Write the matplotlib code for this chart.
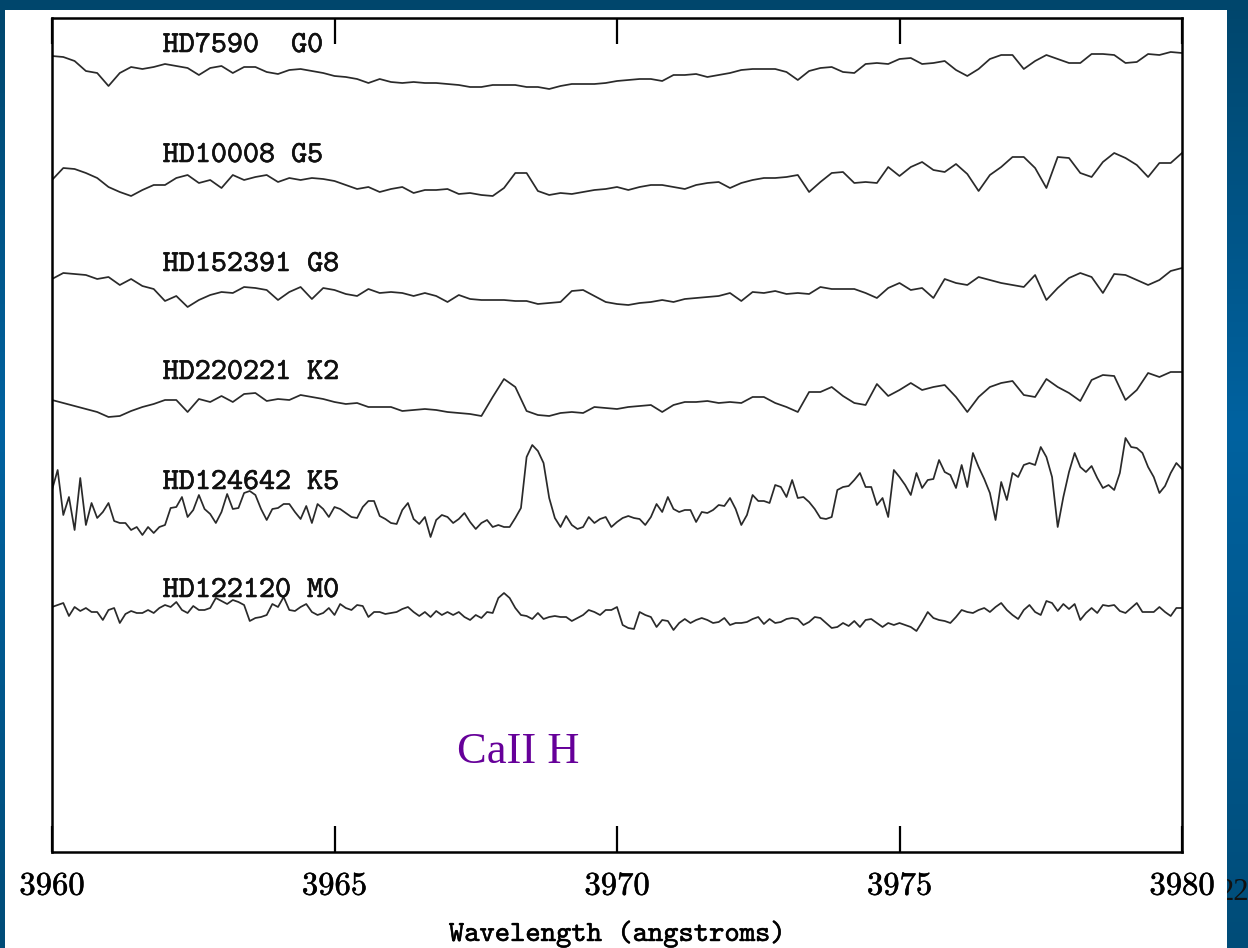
import numpy as np
import matplotlib
matplotlib.use("Agg")
import matplotlib.pyplot as plt
import matplotlib.patheffects as pe
from matplotlib.patches import Rectangle
from matplotlib.colors import LinearSegmentedColormap

# wavelength grids (0.2 A and 0.1 A steps)
wave = np.linspace(3960, 3980, 101)
wave_fine = np.linspace(3960, 3980, 201)

# relative flux, one array per star
g0 = [34, 33, 29, 19, 17, 4, 17, 23, 21, 23, 26, 24, 22, 15, 22, 24, 17, 23, 23, 18,
      16, 20, 21, 19, 17, 14, 13, 11, 7, 11, 8, 7, 8, 7, 7, 6, 5, 3, 3, 5,
      5, 5, 3, 3, 1, 4, 6, 6, 6, 7, 9,
      10, 11, 11, 9, 15, 15, 16, 13, 15, 17, 20, 21, 21, 21, 18, 10, 19, 22, 23, 18,
      17, 26, 27, 26, 31, 32, 26, 27, 29, 20, 14, 21, 31, 35, 35, 21, 29, 35, 31, 27,
      27, 36, 36, 35, 27, 28, 36, 35, 38, 37]

g5 = [20, 32, 31, 27, 22, 13, 8, 4, 10, 15, 15, 22, 25, 17, 20, 12, 25, 20, 23, 25,
      18, 22, 20, 22, 21, 19, 15, 11, 13, 8, 11, 13, 7, 10, 10, 11, 6, 7, 5, 4,
      12, 27, 27, 9, 5, 7, 6, 8, 10, 11, 13,
      10, 13, 15, 15, 13, 11, 15, 17, 18, 12, 17, 20, 22, 22, 23, 25, 8, 18, 27, 28,
      17, 18, 17, 33, 24, 33, 38, 30, 28, 36, 26, 9, 25, 33, 43, 43, 32, 12, 43, 42,
      27, 23, 38, 47, 42, 35, 23, 37, 37, 47]

g8 = [31, 37, 36, 35, 31, 33, 25, 31, 24, 21, 9, 14, 3, 10, 15, 18, 17, 23, 22, 20,
      10, 18, 23, 11, 22, 20, 16, 14, 21, 17, 18, 17, 14, 17, 14, 8, 15, 11, 10, 10,
      10, 9, 9, 6, 7, 8, 19, 20, 14, 8, 6,
      5, 7, 8, 10, 8, 11, 12, 13, 14, 17, 9, 18, 17, 19, 16, 17, 16, 23, 21, 21,
      21, 17, 12, 22, 27, 20, 22, 12, 31, 27, 25, 33, 30, 27, 25, 23, 35, 10, 22, 32,
      37, 33, 17, 36, 35, 30, 25, 30, 39, 42]

k2 = [20, 17, 14, 11, 8, 3, 4, 9, 13, 16, 20, 20, 8, 21, 18, 24, 18, 26, 27, 19,
      21, 20, 25, 23, 21, 18, 16, 17, 13, 13, 13, 9, 10, 11, 10, 8, 7, 6, 4, 23,
      41, 33, 9, 5, 4, 7, 8, 7, 13, 12, 11,
      13, 14, 15, 8, 15, 18, 18, 19, 17, 18, 17, 23, 23, 17, 13, 8, 28, 28, 33, 24,
      17, 15, 36, 24, 30, 37, 30, 33, 35, 23, 8, 23, 33, 37, 39, 25, 23, 41, 33, 27,
      19, 40, 45, 44, 20, 30, 47, 43, 48, 48]

k5 = [50, 70, 25, 43, 10, 62, 15, 37, 22, 28, 37, 19, 17, 17, 10, 13, 5, 13, 7, 13,
      15, 32, 33, 43, 23, 30, 45, 31, 26, 17, 28, 46, 31, 32, 47, 49, 45, 31, 20, 31,
      32, 36, 36, 28, 21, 34, 17, 36, 31, 23, 33, 31, 27, 23, 22, 33, 39, 39, 24, 21,
      17, 16, 30, 37, 21, 16, 23, 3, 20, 25, 23, 17, 21, 27, 18, 11, 17, 20, 13, 15,
      13, 13, 22, 32, 83, 95, 89, 77, 42, 22, 13, 24, 15, 11, 13, 23, 17, 21, 23, 13,
      18,
      22, 24, 22, 21, 15, 23, 36, 28, 43, 31, 28, 30, 30, 18, 28, 27, 30, 35, 34, 42,
      31, 15, 25, 45, 39, 39, 37, 55, 53, 43, 60, 42, 43, 38, 31, 22, 21, 23, 50, 53,
      54, 60, 67, 53, 53, 35, 42, 23, 70, 63, 55, 45, 67, 52, 60, 61, 80, 68, 65, 52,
      75, 53, 87, 73, 61, 47, 20, 58, 40, 67, 63, 75, 77, 75, 93, 83, 63, 13, 43, 68,
      87, 73, 68, 74, 62, 52, 55, 50, 67, 102, 93, 92, 87, 73, 63, 47, 54, 67, 77, 71]

m0 = [23, 25, 27, 14, 23, 19, 22, 18, 18, 10, 20, 22, 7, 16, 19, 17, 17, 20, 17, 22,
      25, 23, 28, 20, 17, 24, 20, 20, 22, 32, 29, 26, 30, 28, 25, 9, 12, 13, 15, 26,
      23, 33, 20, 19, 23, 26, 18, 15, 17, 22, 15, 26, 22, 20, 25, 24, 13, 18, 18, 16,
      17, 18, 21, 23, 18, 14, 18, 13, 19, 15, 18, 15, 18, 13, 10, 15, 12, 18, 17, 32,
      37, 32, 22, 15, 14, 11, 17, 11, 13, 14, 13, 13, 9, 12, 15, 20, 18, 15, 20, 20,
      23,
      5, 2, 1, 18, 15, 13, 3, 10, 9, 0, 7, 11, 7, 10, 12, 10, 7, 8, 12, 5,
      7, 7, 8, 11, 13, 6, 11, 7, 8, 11, 12, 11, 5, 8, 13, 12, 7, 2, 3, 7,
      4, 9, 3, 10, 11, 7, 3, 7, 5, 7, 5, 3, -1, 8, 18, 12, 10, 9, 7, 13,
      20, 18, 17, 20, 22, 18, 23, 27, 20, 15, 11, 20, 25, 18, 15, 29, 27, 19, 26, 21,
      26, 10, 17, 22, 17, 25, 24, 25, 19, 17, 22, 27, 18, 18, 18, 23, 18, 14, 22, 22]

names = ["HD7590  G0", "HD10008 G5", "HD152391 G8",
         "HD220221 K2", "HD124642 K5", "HD122120 M0"]
spectra = [g0, g5, g8, k2, k5, m0]
offsets = [762, 652, 542, 432, 312, 222]
label_y = [800, 690, 581, 473, 363, 255]
ticks = [3960, 3965, 3970, 3975, 3980]
tick_labels = ["3960", "3965", "3970", "3975", "3980"]

fig = plt.figure(figsize=(12.48, 9.48), dpi=100)

# slide background: blue gradient, white panel, page number
bg = fig.add_axes([0, 0, 1, 1])
bg.set_axis_off()
cmap = LinearSegmentedColormap.from_list(
    "slide", [(0, "#00466c"), (0.45, "#0062a0"), (1, "#004c78")])
bg.imshow(np.linspace(0, 1, 256).reshape(-1, 1), extent=(0, 1248, 948, 0),
          aspect="auto", cmap=cmap)
bg.set_xlim(0, 1248)
bg.set_ylim(948, 0)
bg.text(1219, 893, "22", fontfamily="Liberation Serif", fontsize=22,
        color="#111111", va="center", zorder=1)
bg.add_patch(Rectangle((5, 10), 1222, 945, facecolor="white",
                       edgecolor="none", zorder=2))

ax = fig.add_axes([52 / 1248, 96 / 948, 1130 / 1248, 834 / 948])
for spec, off in zip(spectra, offsets):
    x = wave if len(spec) == len(wave) else wave_fine
    ax.plot(x, np.array(spec) + off, color="#2a2a2a", lw=1.25)

thick = [pe.withStroke(linewidth=0.4, foreground="#111111")]
for name, y in zip(names, label_y):
    ax.text(3961.96, y, name, fontfamily="cmtt10", fontsize=22, va="baseline",
            color="#111111", path_effects=thick)

ax.text(3967.17, 89, "CaII H", fontfamily="Liberation Serif", fontsize=32,
        color="#660099", va="baseline")

ax.set_xlim(3960, 3980)
ax.set_ylim(0, 834)
ax.set_yticks([])
ax.set_xticks(ticks)
ax.set_xticklabels(tick_labels, fontfamily="cmr10", fontsize=23.5)
for t in ax.get_xticklabels():
    t.set_path_effects(thick)
ax.tick_params(axis="x", direction="in", length=19, width=1.6, top=True, pad=14)
for s in ax.spines.values():
    s.set_linewidth(1.8)
ax.set_xlabel("Wavelength (angstroms)", fontfamily="cmtt10", fontsize=21,
              labelpad=14, path_effects=thick)

fig.savefig("out.png", dpi=100)
